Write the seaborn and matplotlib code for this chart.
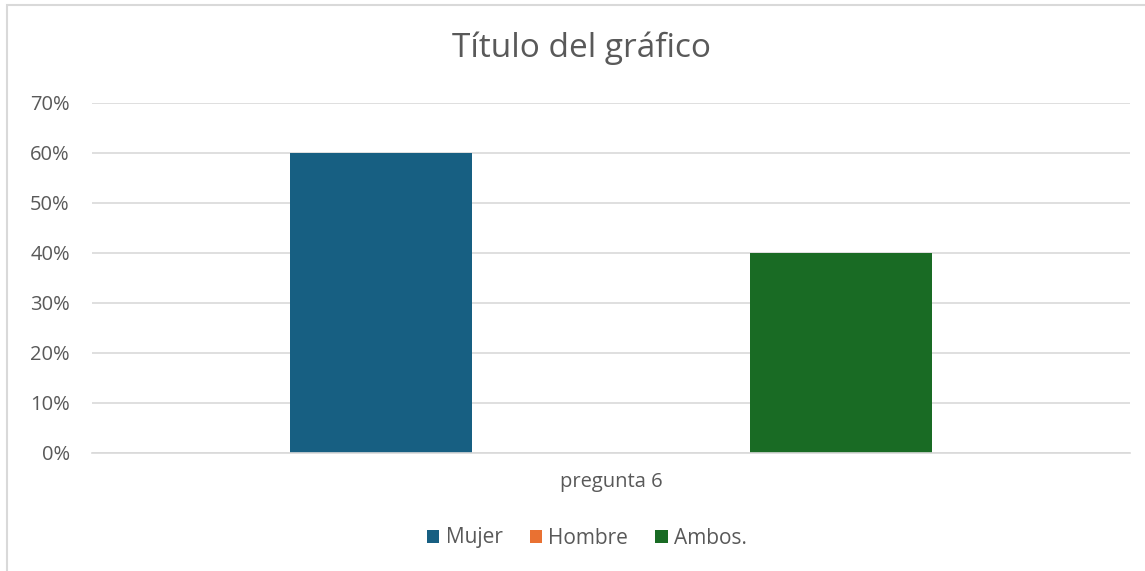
import pandas as pd
import matplotlib.pyplot as plt
import seaborn as sns
from matplotlib.patches import Rectangle
from matplotlib.ticker import PercentFormatter

# Chart data
categories = ['pregunta 6']
series = ['Mujer', 'Hombre', 'Ambos.']
values = [0.60, 0.0, 0.40]
colors = ['#175f82', '#e97132', '#196b24']

df = pd.DataFrame({
    'pregunta': categories * len(series),
    'serie': series,
    'valor': values,
})

sns.set_theme(style='white')
plt.rcParams['font.family'] = ['Open Sans', 'DejaVu Sans']
text_color = '#595959'
grid_color = '#d9d9d9'

fig = plt.figure(figsize=(11.45, 5.71), dpi=100)
W, H = 1145, 571
ax = fig.add_axes([92 / W, 1 - 453 / H, (1130 - 92) / W, (453 - 103) / H])

sns.barplot(data=df, x='pregunta', y='valor', hue='serie', hue_order=series,
            palette=colors, width=0.665, gap=0.21, saturation=1, linewidth=0,
            legend=True, ax=ax)

ax.set_ylim(0, 0.7)
ax.set_xlim(-0.5, 0.5)
ax.set_yticks([i / 10 for i in range(8)])
ax.yaxis.set_major_formatter(PercentFormatter(1.0, decimals=0))
ax.grid(axis='y', color=grid_color, linewidth=1.2)
ax.set_axisbelow(True)
for side in ['top', 'right', 'left']:
    ax.spines[side].set_visible(False)
ax.spines['bottom'].set_color(grid_color)
ax.spines['bottom'].set_linewidth(1.2)
ax.tick_params(axis='both', length=0, colors=text_color, labelsize=14.5)
ax.tick_params(axis='y', pad=16)
ax.tick_params(axis='x', pad=14)
ax.set_xlabel('')
ax.set_ylabel('')

fig.text(582 / W, 1 - 48 / H, 'Título del gráfico', ha='center', va='center',
         fontsize=24, color=text_color)

handles, labels = ax.get_legend_handles_labels()
ax.get_legend().remove()
fig.legend(handles, labels, loc='center', bbox_to_anchor=(587 / W, 1 - 538 / H),
           ncol=3, frameon=False, fontsize=15, labelcolor=text_color,
           handlelength=0.6, handleheight=0.6, handletextpad=0.3, columnspacing=1.3)

# chart border
fig.patches.append(Rectangle((7 / W, -0.1), 1.2, 1 - 5 / H + 0.1, transform=fig.transFigure,
                             fill=False, edgecolor=grid_color, linewidth=1.5))

fig.savefig('out.png', dpi=100)
